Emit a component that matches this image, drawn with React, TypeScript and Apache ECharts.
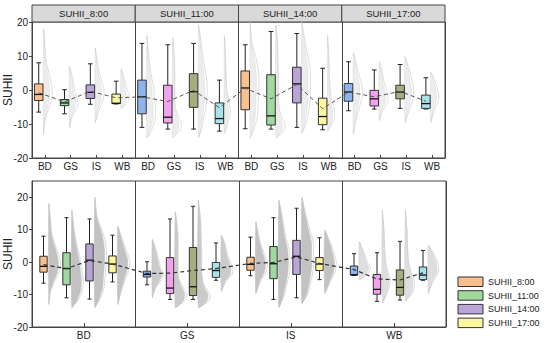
import React, { useEffect, useRef } from "react";
import * as echarts from "echarts";

const times = ["SUHII_8:00", "SUHII_11:00", "SUHII_14:00", "SUHII_17:00"];
const categories = ["BD", "GS", "IS", "WB"];
const yTicks = [-20, -10, 0, 10, 20];

// box stats [min, Q1, median, Q3, max], in category order BD, GS, IS, WB
const box8 = [[-6.5, -3.1, -1.3, 1.8, 8.0], [-7.0, -4.6, -3.8, -2.8, 0.1], [-4.2, -2.5, -0.7, 1.5, 7.7], [-4.1, -4.0, -3.9, -1.2, 2.6]];
const box11 = [[-11.0, -7.0, -2.0, 2.9, 13.7], [-11.5, -9.7, -8.0, 1.4, 13.3], [-11.5, -5.1, -0.5, 4.8, 13.7], [-12.1, -9.9, -8.4, -3.8, 2.9]];
const box14 = [[-11.4, -5.8, 0.6, 5.6, 13.3], [-11.5, -10.3, -7.6, 4.5, 17.2], [-11.0, -3.8, 1.8, 6.7, 16.6], [-11.7, -10.2, -7.8, -2.4, 6.4]];
const box17 = [[-6.1, -3.3, -0.6, 1.9, 8.3], [-5.6, -4.7, -2.6, -0.1, 5.9], [-5.4, -2.6, -0.6, 1.4, 7.5], [-5.6, -5.4, -4.0, -1.5, 3.6]];
const boxStats = [box8, box11, box14, box17];

// means (dashed connecting line)
const mean8 = [-0.8, -3.5, -0.4, -2.3];
const mean11 = [-2.0, -3.4, -0.1, -5.2];
const mean14 = [0.5, -2.6, 1.6, -5.5];
const mean17 = [-0.6, -2.0, -0.4, -3.3];
const means = [mean8, mean11, mean14, mean17];

// point-cloud profiles [value, relative width]
const cloudBD8 = [[-13, 0], [-9, 0.15], [-6, 0.5], [-3, 0.9], [0, 1], [3, 0.8], [6, 0.5], [9, 0.25], [13, 0.15], [18, 0]];
const cloudGS8 = [[-11, 0], [-8, 0.3], [-6, 0.7], [-4, 1], [-2, 0.8], [0, 0.6], [3, 0.4], [7, 0]];
const cloudIS8 = [[-9.6, 0], [-6, 0.4], [-3, 0.9], [0, 1], [3, 0.7], [6, 0.4], [9, 0.2], [12.4, 0]];
const cloudWB8 = [[-5.5, 0], [-4, 0.6], [-2, 1], [0, 0.7], [3, 0.4], [6.2, 0]];
const cloudBD11 = [[-14, 0], [-12, 0.5], [-9, 0.9], [-6, 1], [-3, 0.9], [0, 0.8], [3, 0.6], [6, 0.4], [10, 0.2], [16, 0]];
const cloudGS11 = [[-14, 0], [-12, 0.8], [-10, 1], [-8, 0.7], [-5, 0.3], [0, 0.25], [5, 0.25], [10, 0.2], [15.5, 0]];
const cloudIS11 = [[-14, 0], [-11, 0.4], [-7, 0.7], [-4, 0.9], [0, 1], [4, 0.9], [8, 0.6], [12, 0.4], [16, 0.2], [19, 0]];
const cloudWB11 = [[-12.7, 0], [-9, 0.5], [-6, 0.7], [-3, 0.5], [0, 0.3], [5, 0.2], [10, 0.15], [16, 0]];
const cloudBD14 = [[-14, 0], [-11, 0.5], [-8, 0.8], [-4, 0.9], [0, 1], [4, 1], [8, 0.8], [11, 0.5], [14, 0.2], [20, 0]];
const cloudGS14 = [[-14, 0], [-12, 0.9], [-10, 1], [-7, 0.5], [-3, 0.3], [2, 0.3], [8, 0.25], [13, 0.2], [19, 0]];
const cloudIS14 = [[-12.7, 0], [-10, 0.5], [-6, 0.8], [-2, 1], [2, 1], [6, 1], [10, 0.7], [14, 0.4], [17, 0.2], [20, 0]];
const cloudWB14 = [[-12, 0], [-9, 0.7], [-6, 0.8], [-3, 0.5], [0, 0.3], [5, 0.2], [10, 0.15], [16, 0]];
const cloudBD17 = [[-13, 0], [-9, 0.3], [-5, 0.7], [-2, 1], [1, 1], [4, 0.7], [7, 0.4], [11, 0]];
const cloudGS17 = [[-9, 0], [-6, 0.4], [-4, 0.9], [-2, 1], [0, 0.8], [3, 0.5], [6, 0.3], [8.3, 0]];
const cloudIS17 = [[-9.6, 0], [-6, 0.5], [-3, 0.9], [0, 1], [3, 0.8], [6, 0.5], [9.8, 0]];
const cloudWB17 = [[-9.6, 0], [-6, 0.4], [-3, 0.9], [0, 0.8], [3, 0.4], [5.2, 0]];
const clouds = [
  [cloudBD8, cloudGS8, cloudIS8, cloudWB8],
  [cloudBD11, cloudGS11, cloudIS11, cloudWB11],
  [cloudBD14, cloudGS14, cloudIS14, cloudWB14],
  [cloudBD17, cloudGS17, cloudIS17, cloudWB17],
];
const cloudDensity = [1, 0.85, 1, 0.55];

const warmColors = ["#F9BF8E", "#A0D8A0", "#B9A6D6", "#FCF69E"];
const coolColors = ["#8EB4F0", "#F3A3EE", "#A9AC80", "#A8E2EA"];

const FONT = '"Liberation Sans", Arial, sans-serif';
const TOP = { left: 32, top: 22, width: 413, height: 136 };
const BOT = { left: 32, top: 181, width: 414, height: 146 };

function makeRender(cfg: any) {
  return (params: any, api: any) => {
    const xc = api.value(0);
    const t = api.value(1);
    const c = api.value(2);
    const [mn, q1, med, q3, mx] = boxStats[t][c];
    const prof = clouds[t][c];
    const pt = (x: number, v: number) => api.coord([x, v]);
    const halfW = api.size([cfg.boxHalf, 0])[0];
    const capHalf = halfW * 0.55;
    const cx = pt(xc, med)[0];
    const yMin = pt(xc, mn)[1];
    const yQ1 = pt(xc, q1)[1];
    const yMed = pt(xc, med)[1];
    const yQ3 = pt(xc, q3)[1];
    const yMax = pt(xc, mx)[1];
    const base = xc + cfg.cloudOffset;
    const outline = prof.map(([v, w]: number[]) => pt(base + w * cfg.cloudWidth, v));
    const violin = prof.map(([v, w]: number[]) => pt(base + w * cfg.violinWidth, v));
    const color = cfg.colorOf(t, c);
    const dark = "#222";
    return {
      type: "group",
      children: [
        {
          type: "polyline",
          shape: { points: violin, smooth: 0.3 },
          style: { fill: "none", stroke: cfg.violinStroke, lineWidth: 0.8 },
        },
        {
          type: "polygon",
          shape: { points: outline, smooth: 0.2 },
          style: {
            fill: cfg.cloudFill,
            opacity: cfg.dense ? cloudDensity[c] : 1,
            stroke: cfg.cloudStroke,
            lineWidth: 0.6,
          },
        },
        { type: "line", shape: { x1: cx, y1: yMin, x2: cx, y2: yQ1 }, style: { stroke: dark, lineWidth: 1 } },
        { type: "line", shape: { x1: cx, y1: yQ3, x2: cx, y2: yMax }, style: { stroke: dark, lineWidth: 1 } },
        { type: "line", shape: { x1: cx - capHalf, y1: yMin, x2: cx + capHalf, y2: yMin }, style: { stroke: dark, lineWidth: 1 } },
        { type: "line", shape: { x1: cx - capHalf, y1: yMax, x2: cx + capHalf, y2: yMax }, style: { stroke: dark, lineWidth: 1 } },
        {
          type: "rect",
          shape: { x: cx - halfW, y: yQ3, width: 2 * halfW, height: yQ1 - yQ3 },
          style: { fill: color, stroke: "#333", lineWidth: 1 },
        },
        { type: "line", shape: { x1: cx - halfW, y1: yMed, x2: cx + halfW, y2: yMed }, style: { stroke: "#111", lineWidth: 1.3 } },
      ],
    };
  };
}

export default function App() {
  const ref = useRef<HTMLDivElement>(null);
  useEffect(() => {
    if (!ref.current) return;
    const chart = echarts.init(ref.current, undefined, { renderer: "svg" });

    // top row: grouped by time, each panel has 4 categories (4 units per panel)
    const topData: number[][] = [];
    const topLine: number[][] = [];
    for (let t = 0; t < 4; t++) {
      for (let c = 0; c < 4; c++) {
        const x = t * 4 + c + 0.5 - 0.24;
        topData.push([x, t, c]);
        topLine.push([x, means[t][c]]);
      }
    }
    // bottom row: grouped by category, each panel has 4 times (4.5 units per panel)
    const botData: number[][] = [];
    const botLine: number[][] = [];
    for (let c = 0; c < 4; c++) {
      for (let t = 0; t < 4; t++) {
        const x = c * 4.5 + t + 0.5;
        botData.push([x, t, c]);
        botLine.push([x, means[t][c]]);
      }
    }
    const topLabels = [...categories, ...categories, ...categories, ...categories];

    const graphics: any[] = [];
    const pw = TOP.width / 4;
    times.forEach((name, k) => {
      graphics.push({
        type: "rect",
        shape: { x: TOP.left + k * pw, y: 5, width: pw, height: TOP.top - 5 },
        style: { fill: "#d9d9d9", stroke: "#444", lineWidth: 1 },
      });
      graphics.push({
        type: "text",
        x: TOP.left + k * pw + pw / 2,
        y: 13.5,
        style: { text: name, fill: "#222", fontSize: 9.5, fontFamily: FONT, align: "center", verticalAlign: "middle" },
      });
    });
    times.forEach((name, i) => {
      graphics.push({
        type: "rect",
        shape: { x: 458, y: 277 + i * 13.7, width: 25, height: 9.5 },
        style: { fill: warmColors[i], stroke: "#333", lineWidth: 1 },
      });
      graphics.push({
        type: "text",
        x: 488,
        y: 282 + i * 13.7,
        style: { text: name, fill: "#222", fontSize: 9, fontFamily: FONT, align: "left", verticalAlign: "middle" },
      });
    });

    const yAxisBase = (gridIndex: number, max: number) => ({
      type: "value",
      gridIndex,
      min: -20,
      max,
      interval: 10,
      name: "SUHII",
      nameLocation: "middle",
      nameGap: 18,
      nameRotate: 90,
      nameMoveOverlap: false,
      nameTextStyle: { fontSize: 12, fontFamily: FONT, color: "#222" },
      axisLine: { show: true, onZero: false, lineStyle: { color: "#444" } },
      axisTick: { show: true, length: 3, lineStyle: { color: "#444" }, customValues: yTicks },
      axisLabel: {
        fontSize: 10,
        fontFamily: FONT,
        color: "#222",
        margin: 4,
        customValues: yTicks,
        formatter: (v: number) => (v > 20 ? "" : String(v)),
      },
      splitLine: { show: false },
    });

    chart.setOption({
      animation: false,
      backgroundColor: "#fff",
      textStyle: { fontFamily: FONT },
      grid: [
        { ...TOP, outerBoundsMode: "none", containLabel: false, show: true, borderColor: "#444", borderWidth: 1, backgroundColor: "transparent" },
        { ...BOT, outerBoundsMode: "none", containLabel: false, show: true, borderColor: "#444", borderWidth: 1, backgroundColor: "transparent" },
      ],
      xAxis: [
        {
          type: "category",
          gridIndex: 0,
          data: topLabels,
          position: "bottom",
          axisLine: { show: true, onZero: false, lineStyle: { color: "#444" } },
          axisTick: { show: true, inside: true, length: 3, alignWithLabel: true, lineStyle: { color: "#444" } },
          axisLabel: { fontSize: 10, fontFamily: FONT, color: "#222", margin: 3, interval: 0 },
          splitLine: { show: false },
        },
        {
          type: "value",
          gridIndex: 0,
          min: 0,
          max: 16,
          interval: 4,
          position: "top",
          axisLine: { show: false, onZero: false },
          axisTick: { show: false },
          axisLabel: { show: false },
          splitLine: { show: true, lineStyle: { color: "#444", width: 1 } },
        },
        {
          type: "category",
          gridIndex: 1,
          data: categories,
          position: "bottom",
          axisLine: { show: true, onZero: false, lineStyle: { color: "#444" } },
          axisTick: { show: true, inside: true, length: 4, alignWithLabel: true, lineStyle: { color: "#444" } },
          axisLabel: { fontSize: 10, fontFamily: FONT, color: "#222", margin: 3 },
          splitLine: { show: false },
        },
        {
          type: "value",
          gridIndex: 1,
          min: 0,
          max: 18,
          interval: 4.5,
          position: "top",
          axisLine: { show: false, onZero: false },
          axisTick: { show: false },
          axisLabel: { show: false },
          splitLine: { show: true, lineStyle: { color: "#444", width: 1 } },
        },
      ],
      yAxis: [yAxisBase(0, 20), yAxisBase(1, 25)],
      series: [
        {
          type: "custom",
          xAxisIndex: 1,
          yAxisIndex: 0,
          z: 2,
          data: topData,
          renderItem: makeRender({
            boxHalf: 0.165,
            cloudOffset: 0.19,
            cloudWidth: 0.24,
            violinWidth: 0.34,
            cloudFill: "rgba(200,200,200,0.32)",
            cloudStroke: "rgba(195,195,195,0.5)",
            violinStroke: "#d6d6d6",
            dense: false,
            colorOf: (t: number, c: number) => (t % 2 === 0 ? warmColors : coolColors)[c],
          }),
        },
        {
          type: "line",
          xAxisIndex: 1,
          yAxisIndex: 0,
          z: 5,
          data: topLine,
          symbol: "none",
          lineStyle: { color: "#555", width: 1, type: [4, 3] },
        },
        {
          type: "custom",
          xAxisIndex: 3,
          yAxisIndex: 1,
          z: 2,
          data: botData,
          renderItem: makeRender({
            boxHalf: 0.16,
            cloudOffset: 0.23,
            cloudWidth: 0.42,
            violinWidth: 0.5,
            cloudFill: "#c2c2c2",
            cloudStroke: "#c2c2c2",
            violinStroke: "#d0d0d0",
            dense: true,
            colorOf: (t: number, c: number) => (c % 2 === 0 ? warmColors : coolColors)[t],
          }),
        },
        {
          type: "line",
          xAxisIndex: 3,
          yAxisIndex: 1,
          z: 5,
          data: botLine,
          symbol: "none",
          lineStyle: { color: "#333", width: 1.2, type: [4, 3] },
        },
      ],
      graphic: graphics,
    });
    return () => chart.dispose();
  }, []);
  return (
    <div
      ref={ref}
      style={{ position: "fixed", left: 0, top: 0, width: 550, height: 343, background: "#fff" }}
    />
  );
}
